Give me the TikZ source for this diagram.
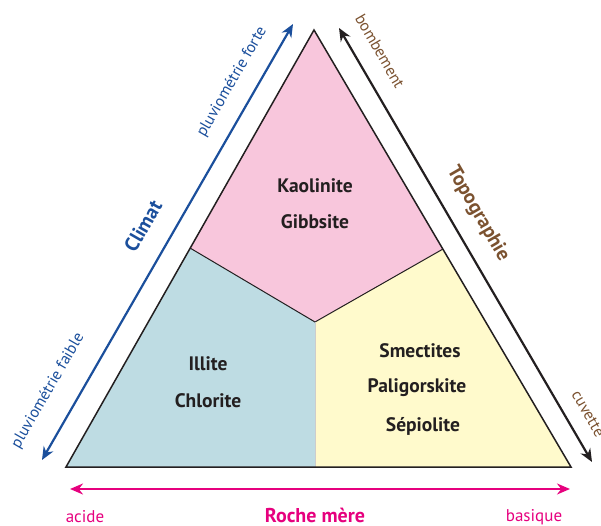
\documentclass[tikz,border=0pt]{standalone}
\usepackage{fontspec}
\setmainfont{PT Sans}
\usepackage{tikz}
\usetikzlibrary{arrows.meta,shapes}

\definecolor{kaopink}{HTML}{F8C6DC}
\definecolor{illblue}{HTML}{BEDCE3}
\definecolor{smeyellow}{HTML}{FFFACC}
\definecolor{climblue}{HTML}{1B4F9C}
\definecolor{topobrown}{HTML}{7B5230}
\definecolor{rochemag}{HTML}{E6007E}
\definecolor{inkdark}{HTML}{231F20}

\tikzset{
  mineral/.style = {text = inkdark, font = \fontsize{19.5}{22}\selectfont\bfseries},
  axistitle/.style = {font = \fontsize{20}{22}\selectfont\bfseries},
  axisend/.style = {font = \fontsize{16}{18}\selectfont},
  axisarrow/.style = {line width = 2.2pt, {Stealth[length=13pt,width=11pt]}-{Stealth[length=13pt,width=11pt]}}
}

\begin{document}
\begin{tikzpicture}[x={(1pt,0)}, y={(0,-1pt)}]

\useasboundingbox (0,0) rectangle (601,526);

% triangle
\coordinate (top) at (314,30);
\coordinate (bl) at (66,467);
\coordinate (br) at (571,467);
\coordinate (mid) at (315,322);
\coordinate (lsplit) at (190,248);
\coordinate (rsplit) at (443,249);
\coordinate (bsplit) at (315,467);

\fill[kaopink] (top) -- (rsplit) -- (mid) -- (lsplit) -- cycle;
\fill[illblue] (lsplit) -- (mid) -- (bsplit) -- (bl) -- cycle;
\fill[smeyellow] (rsplit) -- (br) -- (bsplit) -- (mid) -- cycle;

\draw[inkdark, line width = 1pt] (lsplit) -- (mid) -- (rsplit);
\draw[gray!40, line width = 0.8pt] (mid) -- (bsplit);
\draw[inkdark, line width = 1.5pt, line join = miter] (top) -- (br) -- (bl) -- cycle;

% arrows
\coordinate (climlow) at (42,460);
\coordinate (climhigh) at (293,24);
\coordinate (topohigh) at (339,28);
\coordinate (topolow) at (592,462);
\coordinate (rocheacid) at (70,489);
\coordinate (rochebas) at (570,489);

\draw[axisarrow, climblue] (climlow) -- (climhigh);
\draw[axisarrow, inkdark] (topohigh) -- (topolow);
\draw[axisarrow, rochemag] (rocheacid) -- (rochebas);

% minerals
\node[mineral] (kao) at (315,186) {Kaolinite};
\node[mineral] (gib) at (315,222) {Gibbsite};
\node[mineral] (ill) at (208,364) {Illite};
\node[mineral] (chl) at (208,401) {Chlorite};
\node[mineral] (sme) at (420,351) {Smectites};
\node[mineral] (pal) at (417,388) {Paligorskite};
\node[mineral] (sep) at (423,426) {Sépiolite};

% labels
\node[axistitle, climblue, rotate = 60] (climat) at (143,226) {Climat};
\node[axisend, climblue, rotate = 60] (pfort) at (232,82) {pluviométrie forte};
\node[axisend, climblue, rotate = 60] (pfaib) at (48,391) {pluviométrie faible};

\node[axistitle, topobrown, rotate = -60] (topo) at (478,214) {Topographie};
\node[axisend, topobrown, rotate = -60] (bomb) at (380,51) {bombement};
\node[axisend, topobrown, rotate = -60] (cuv) at (588,414) {cuvette};

\node[axistitle, rochemag] (roche) at (315,515) {Roche mère};
\node[axisend, rochemag, font = \fontsize{17}{19}\selectfont] (acid) at (85,517) {acide};
\node[axisend, rochemag, font = \fontsize{17}{19}\selectfont] (bas) at (534,517) {basique};

\end{tikzpicture}
\end{document}
